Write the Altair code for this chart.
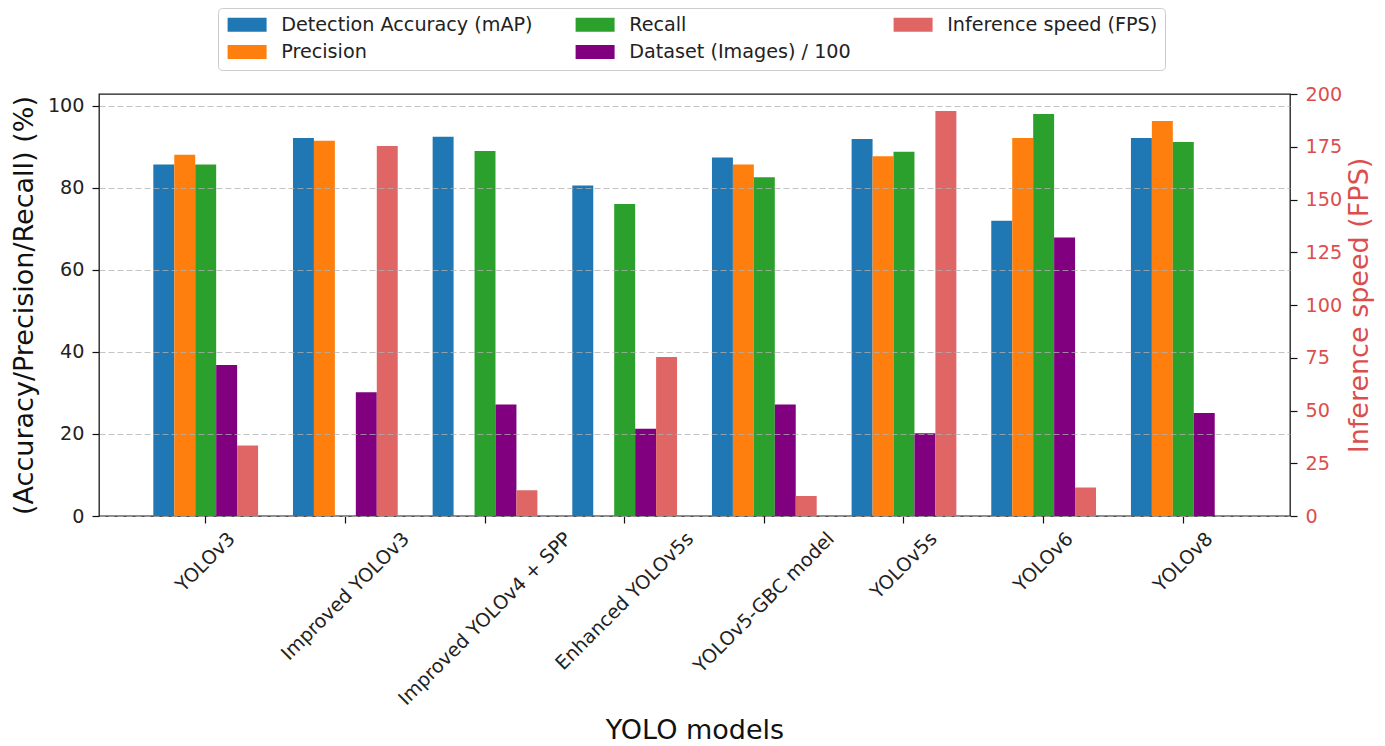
import altair as alt
import pandas as pd

# ---------------- data ----------------
models = ["YOLOv3", "Improved YOLOv3", "Improved YOLOv4 + SPP", "Enhanced YOLOv5s",
          "YOLOv5-GBC model", "YOLOv5s", "YOLOv6", "YOLOv8"]
map_vals = [85.7, 92.2, 92.5, 80.6, 87.4, 91.9, 72.0, 92.2]
precision_vals = [88.1, 91.5, None, None, 85.7, 87.7, 92.2, 96.3]
recall_vals = [85.7, None, 89.0, 76.1, 82.6, 88.8, 98.0, 91.2]
dataset_vals = [36.8, 30.2, 27.2, 21.3, 27.2, 20.2, 67.9, 25.1]
fps_vals = [33.4, 175.4, 12.2, 75.4, 9.5, 192.0, 13.5, None]

series_names = ["Detection Accuracy (mAP)", "Precision", "Recall",
                "Dataset (Images) / 100", "Inference speed (FPS)"]
series_colors = ["#1f77b4", "#ff7f0e", "#2ca02c", "#800080", "#e06666"]
left_ticks = [0, 20, 40, 60, 80, 100]
right_ticks = [0, 25, 50, 75, 100, 125, 150, 175, 200]

FPS = series_names[4]

rows = []
for name, vals in zip(series_names, [map_vals, precision_vals, recall_vals, dataset_vals, fps_vals]):
    for m, v in zip(models, vals):
        if v is not None:
            rows.append({"model": m, "series": name, "value": v})
df = pd.DataFrame(rows)

# ---------------- label geometry (matplotlib-style centered rotated labels) ----------------
FONT = "DejaVu Sans"
LFS = 19.2
TFS = 27
CW = {" ": .318, "+": .838, "-": .361, "3": .636, "4": .636, "5": .636, "6": .636, "8": .636,
      "B": .686, "C": .698, "E": .632, "G": .775, "I": .295, "L": .557, "O": .787, "P": .603,
      "S": .635, "Y": .611, "a": .613, "c": .550, "d": .635, "e": .615, "h": .634, "l": .278,
      "m": .974, "n": .634, "o": .612, "p": .635, "r": .411, "s": .521, "v": .592}


def text_w(s, f):
    return sum(CW.get(c, 0.6) for c in s) * f


S45 = 0.7071
conds = [{"test": f"datum.value === '{m}'",
          "value": round(S45 * (text_w(m, LFS) + 0.52 * LFS) / 2, 1)} for m in models]

W, H = 1191, 422
RED_TXT = "#dc4e4e"

x_enc = alt.X(
    "model:N", sort=models, title="YOLO models",
    scale=alt.Scale(domain=models, paddingInner=0.25, paddingOuter=0.389),
    axis=alt.Axis(labelAngle=315, labelAlign="right", labelBaseline="alphabetic",
                  labelOffset={"condition": conds, "value": 0},
                  labelPadding=16.5, tickSize=7, tickColor="#111", tickWidth=1.2,
                  labelFontSize=LFS, labelColor="#222", labelFont=FONT,
                  labelOverlap=False, labelLimit=400, labelFlush=False,
                  titleFontSize=TFS, titleFont=FONT, titleFontWeight="normal", titleColor="#111",
                  titleX=W / 2, titleY=222, titleAlign="center", titleBaseline="alphabetic",
                  domain=False, grid=False),
)
xo_enc = alt.XOffset("series:N", sort=series_names,
                     scale=alt.Scale(domain=series_names, paddingInner=0, paddingOuter=0))
color_enc = alt.Color("series:N", title=None,
                      scale=alt.Scale(domain=series_names, range=series_colors),
                      legend=alt.Legend(orient="none", legendX=119, legendY=-86, columns=3,
                                        direction="vertical",
                                        columnPadding=40, rowPadding=7.5,
                                        symbolType="M-1,-1L4.571,-1L4.571,1L-1,1Z",
                                        symbolSize=196, symbolStrokeWidth=0,
                                        labelFontSize=LFS, labelFont=FONT, labelColor="#222",
                                        labelOffset=37, labelLimit=400, padding=7,
                                        strokeColor="#cccccc", fillColor="white",
                                        cornerRadius=4))

base = alt.Chart(df)

left = base.transform_filter(alt.datum.series != FPS).mark_bar().encode(
    x=x_enc, xOffset=xo_enc, color=color_enc,
    y=alt.Y("value:Q", title="(Accuracy/Precision/Recall) (%)",
            scale=alt.Scale(domain=[0, 102.9], nice=False, zero=True),
            axis=alt.Axis(values=left_ticks, grid=True, gridDash=[6, 3], gridColor="#b0b0b0",
                          gridOpacity=0.75, gridWidth=1, zindex=1, domain=False,
                          tickSize=7, tickColor="#111", tickWidth=1.2, labelPadding=8,
                          labelFontSize=LFS, labelFont=FONT, labelColor="#222",
                          titleFontSize=TFS, titleFont=FONT, titleFontWeight="normal",
                          titleColor="#111", titleAngle=270, titleX=-75, titleY=H / 2,
                          titleAlign="center", titleBaseline="middle")),
)

right = base.transform_filter(alt.datum.series == FPS).mark_bar().encode(
    x=x_enc, xOffset=xo_enc, color=color_enc,
    y=alt.Y("value:Q", title="Inference speed (FPS)",
            scale=alt.Scale(domain=[0, 200], nice=False, zero=True),
            axis=alt.Axis(orient="right", values=right_ticks, grid=False, domain=False,
                          tickSize=7, tickColor="#111", tickWidth=1.2, labelPadding=8,
                          labelFontSize=LFS, labelFont=FONT, labelColor=RED_TXT,
                          titleFontSize=TFS, titleFont=FONT, titleFontWeight="normal",
                          titleColor=RED_TXT, titleAngle=270, titleX=69, titleY=H / 2,
                          titleAlign="center", titleBaseline="middle")),
)

chart = (
    alt.layer(left, right)
    .resolve_scale(y="independent")
    .properties(width=W, height=H,
                autosize=alt.AutoSizeParams(type="none"),
                padding={"left": 91, "top": 86, "right": 86, "bottom": 230})
    .configure_view(stroke="#1a1a1a", strokeWidth=1.3)
)

chart.save("out.html", embed_options={"renderer": "svg", "actions": False})
